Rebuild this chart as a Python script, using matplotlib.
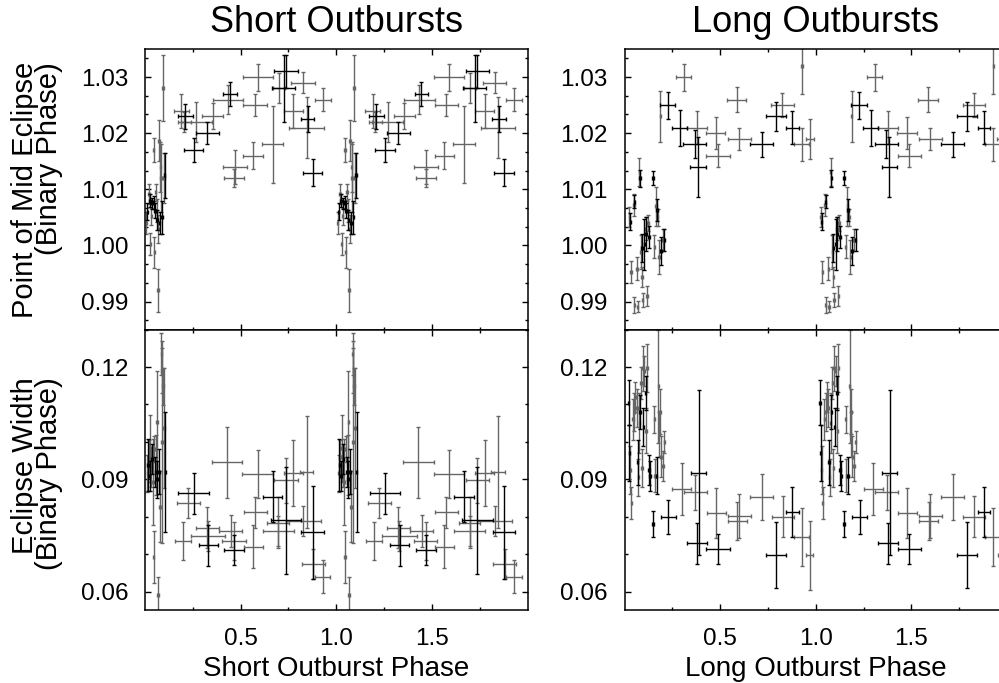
import numpy as np
import matplotlib
matplotlib.use("Agg")
import matplotlib.pyplot as plt
from matplotlib.ticker import FixedLocator, FormatStrFormatter

plt.rcParams["font.family"] = ["Liberation Sans", "DejaVu Sans"]

# ---- short outbursts: point of mid eclipse (phase 0-1, shown twice) ----
sm_phase = [0.007, 0.012, 0.020, 0.025, 0.028, 0.033, 0.037, 0.045, 0.045, 0.049,
            0.051, 0.056, 0.061, 0.064, 0.068, 0.070, 0.073, 0.076, 0.080, 0.083,
            0.090, 0.094, 0.099, 0.102,
            0.190, 0.210, 0.205, 0.255, 0.268, 0.325, 0.355, 0.435, 0.445, 0.470,
            0.467, 0.566, 0.576, 0.590, 0.668, 0.700, 0.738, 0.725, 0.776, 0.828,
            0.845, 0.850, 0.877, 0.930]
sm_dphase = [0.004] * 24 + \
            [0.040, 0.040, 0.035, 0.050, 0.080, 0.060, 0.055, 0.080, 0.035, 0.062,
             0.052, 0.052, 0.062, 0.080, 0.055, 0.030, 0.062, 0.060, 0.050, 0.062,
             0.090, 0.035, 0.050, 0.040]
sm_mid = [1.0040, 1.0060, 1.0092, 1.0080, 1.0003, 1.0052, 1.0075, 1.0170, 1.0077, 0.9988,
          1.0062, 1.0095, 1.0062, 1.0045, 0.9920, 1.0030, 1.0187, 1.0040, 1.0140, 1.0120,
          1.0050, 1.0280, 1.0120, 1.0125,
          1.0240, 1.0230, 1.0220, 1.0170, 1.0220, 1.0200, 1.0230, 1.0260, 1.0270, 1.0140,
          1.0120, 1.0160, 1.0250, 1.0300, 1.0180, 1.0280, 1.0310, 1.0280, 1.0240, 1.0290,
          1.0210, 1.0225, 1.0130, 1.0260]
sm_dmid = [0.0020, 0.0015, 0.0018, 0.0012, 0.0020, 0.0015, 0.0010, 0.0022, 0.0012, 0.0028,
           0.0013, 0.0015, 0.0020, 0.0018, 0.0038, 0.0025, 0.0037, 0.0020, 0.0045, 0.0060,
           0.0030, 0.0059, 0.0045, 0.0040,
           0.0030, 0.0022, 0.0018, 0.0022, 0.0035, 0.0020, 0.0023, 0.0025, 0.0022, 0.0030,
           0.0016, 0.0024, 0.0020, 0.0024, 0.0068, 0.0027, 0.0030, 0.0060, 0.0030, 0.0019,
           0.0055, 0.0023, 0.0024, 0.0020]
sm_grey = [1, 0, 1, 0, 1, 1, 0, 1, 0, 1, 0, 1, 1, 0, 1, 1, 1, 0, 1, 1, 0, 1, 1, 0,
           1, 0, 1, 0, 1, 0, 1, 1, 0, 1, 1, 1, 1, 1, 1, 1, 0, 0, 1, 1, 1, 0, 0, 1]

# ---- short outbursts: eclipse width ----
sw_phase = [0.012, 0.016, 0.020, 0.024, 0.028, 0.033, 0.037, 0.042, 0.045, 0.049,
            0.054, 0.059, 0.062, 0.064, 0.068, 0.072, 0.078, 0.086, 0.088, 0.090,
            0.094, 0.099, 0.106,
            0.198, 0.225, 0.255, 0.325, 0.330, 0.332, 0.429, 0.448, 0.467, 0.467,
            0.566, 0.576, 0.589, 0.668, 0.697, 0.697, 0.738, 0.776, 0.738, 0.828,
            0.845, 0.877, 0.880, 0.929]
sw_dphase = [0.004] * 23 + \
            [0.040, 0.060, 0.080, 0.060, 0.090, 0.050, 0.080, 0.060, 0.062, 0.052,
             0.050, 0.060, 0.080, 0.050, 0.057, 0.080, 0.080, 0.050, 0.062, 0.090,
             0.035, 0.060, 0.060, 0.040]
sw_width = [0.0916, 0.0938, 0.0960, 0.0910, 0.0983, 0.0930, 0.0955, 0.0894, 0.0693, 0.0980,
            0.0920, 0.0938, 0.0900, 0.1054, 0.0590, 0.0920, 0.0827, 0.1235, 0.1000, 0.1190,
            0.1148, 0.1038, 0.0920,
            0.0735, 0.0836, 0.0863, 0.0771, 0.0748, 0.0724, 0.0946, 0.0762, 0.0735, 0.0711,
            0.0720, 0.0812, 0.0914, 0.0854, 0.0784, 0.0762, 0.0790, 0.0917, 0.0897, 0.0789,
            0.0920, 0.0758, 0.0674, 0.0640]
sw_dwidth = [0.0050, 0.0070, 0.0045, 0.0040, 0.0090, 0.0050, 0.0040, 0.0115, 0.0070, 0.0035,
             0.0040, 0.0080, 0.0050, 0.0135, 0.0050, 0.0060, 0.0095, 0.0055, 0.0270, 0.0060,
             0.0050, 0.0160, 0.0160,
             0.0050, 0.0040, 0.0055, 0.0055, 0.0040, 0.0055, 0.0095, 0.0042, 0.0050, 0.0040,
             0.0058, 0.0042, 0.0065, 0.0068, 0.0068, 0.0040, 0.0143, 0.0088, 0.0060, 0.0040,
             0.0150, 0.0125, 0.0040, 0.0045]
sw_grey = [1, 0, 1, 0, 1, 1, 0, 1, 1, 1, 0, 1, 0, 1, 1, 0, 1, 1, 1, 1, 1, 1, 0,
           1, 1, 0, 1, 1, 0, 1, 1, 1, 0, 1, 1, 1, 0, 1, 1, 0, 1, 1, 1, 1, 0, 1, 1]

# ---- long outbursts: point of mid eclipse ----
lm_phase = [0.026, 0.031, 0.035, 0.049, 0.052, 0.052, 0.066, 0.069, 0.078, 0.082,
            0.087, 0.092, 0.092, 0.095, 0.104, 0.110, 0.113, 0.118, 0.122, 0.128,
            0.148, 0.156, 0.165, 0.170, 0.173, 0.181, 0.190, 0.200, 0.208,
            0.188, 0.226, 0.309, 0.288, 0.378, 0.368, 0.385, 0.477, 0.490, 0.587,
            0.599, 0.717, 0.792, 0.826, 0.878, 0.927, 0.929, 0.969]
lm_dphase = [0.004] * 29 + \
            [0.004, 0.040, 0.040, 0.040, 0.052, 0.060, 0.040, 0.050, 0.062, 0.050,
             0.060, 0.060, 0.052, 0.058, 0.032, 0.040, 0.004, 0.020]
lm_mid = [1.0051, 1.0042, 0.9953, 1.0072, 1.0078, 0.9894, 0.9959, 0.9891, 1.0131, 1.0120,
          0.9989, 0.9995, 0.9944, 0.9903, 1.0002, 1.0030, 1.0021, 0.9910, 1.0040, 1.0015,
          1.0120, 0.9998, 1.0070, 1.0063, 1.0050, 0.9980, 0.9990, 1.0010, 1.0010,
          1.0230, 1.0250, 1.0300, 1.0210, 1.0210, 1.0180, 1.0140, 1.0200, 1.0160, 1.0260,
          1.0190, 1.0180, 1.0230, 1.0250, 1.0210, 1.0180, 1.0320, 1.0190]
lm_dmid = [0.0018, 0.0015, 0.0020, 0.0019, 0.0012, 0.0015, 0.0020, 0.0010, 0.0025, 0.0015,
           0.0030, 0.0025, 0.0018, 0.0013, 0.0045, 0.0020, 0.0030, 0.0018, 0.0015, 0.0020,
           0.0013, 0.0020, 0.0035, 0.0020, 0.0015, 0.0030, 0.0025, 0.0020, 0.0020,
           0.0045, 0.0024, 0.0024, 0.0032, 0.0030, 0.0025, 0.0053, 0.0028, 0.0020, 0.0022,
           0.0020, 0.0023, 0.0026, 0.0022, 0.0030, 0.0029, 0.0050, 0.0036]
lm_grey = [1, 0, 1, 1, 0, 1, 1, 1, 1, 0, 1, 0, 1, 1, 0, 1, 0, 1, 1, 0, 0, 1, 1, 0, 1, 1, 0, 1, 0,
           1, 0, 1, 0, 1, 0, 0, 1, 1, 1, 1, 0, 0, 1, 0, 1, 1, 1]

# ---- long outbursts: eclipse width ----
lw_phase = [0.021, 0.026, 0.031, 0.036, 0.045, 0.052, 0.057, 0.066, 0.069, 0.073,
            0.078, 0.082, 0.087, 0.092, 0.095, 0.099, 0.104, 0.110, 0.113, 0.118,
            0.127, 0.134, 0.148, 0.156, 0.160, 0.168, 0.177, 0.182, 0.186, 0.191,
            0.200, 0.208,
            0.229, 0.300, 0.370, 0.387, 0.378, 0.479, 0.490, 0.599, 0.590, 0.717,
            0.790, 0.828, 0.878, 0.927, 0.969]
lw_dphase = [0.004] * 32 + \
            [0.040, 0.050, 0.060, 0.040, 0.052, 0.050, 0.062, 0.060, 0.050, 0.060,
             0.052, 0.058, 0.032, 0.040, 0.018]
lw_width = [0.1105, 0.0970, 0.0925, 0.0837, 0.1060, 0.1080, 0.1120, 0.1090, 0.0945, 0.0905,
            0.1050, 0.1080, 0.1157, 0.0930, 0.1197, 0.1040, 0.1190, 0.1130, 0.1030, 0.1197,
            0.0925, 0.0910, 0.0781, 0.1060, 0.0910, 0.0910, 0.1148, 0.1020, 0.1080, 0.0960,
            0.0935, 0.1000,
            0.0800, 0.0874, 0.0865, 0.0918, 0.0729, 0.0810, 0.0715, 0.0802, 0.0789, 0.0852,
            0.0697, 0.0800, 0.0813, 0.0746, 0.0697]
lw_dwidth = [0.0060, 0.0075, 0.0065, 0.0042, 0.0055, 0.0050, 0.0040, 0.0050, 0.0060, 0.0050,
             0.0080, 0.0045, 0.0042, 0.0050, 0.0060, 0.0050, 0.0040, 0.0045, 0.0060, 0.0065,
             0.0040, 0.0040, 0.0035, 0.0035, 0.0045, 0.0050, 0.0150, 0.0060, 0.0060, 0.0055,
             0.0040, 0.0030,
             0.0045, 0.0070, 0.0047, 0.0220, 0.0055, 0.0066, 0.0040, 0.0060, 0.0050, 0.0061,
             0.0088, 0.0055, 0.0067, 0.0077, 0.0092]
lw_grey = [0, 0, 1, 1, 1, 1, 1, 1, 0, 1, 1, 0, 1, 1, 1, 0, 1, 0, 1, 1, 0, 0, 0, 1, 1, 0, 1, 1,
           1, 1, 1, 1,
           0, 1, 1, 0, 0, 1, 0, 1, 1, 1, 0, 1, 0, 1, 1]

x_ticks = [0.5, 1.0, 1.5]
mid_ticks = [0.99, 1.00, 1.01, 1.02, 1.03]
width_ticks = [0.06, 0.09, 0.12]


def draw(ax, phase, dphase, val, dval, grey):
    phase, dphase = np.array(phase), np.array(dphase)
    val, dval, grey = np.array(val), np.array(dval), np.array(grey)
    for shift in (0.0, 1.0):
        for g, col in ((1, "#666666"), (0, "black")):
            m = grey == g
            ax.errorbar(phase[m] + shift, val[m], xerr=dphase[m], yerr=dval[m],
                        fmt="none", ecolor=col, elinewidth=1.0,
                        capsize=1.3, capthick=1.0)


fig = plt.figure(figsize=(9.99, 6.83), dpi=100)
W, H = 382.5 / 999, 280.7 / 683
lefts = [145 / 999, 624.5 / 999]
bottoms = [1 - 329.7 / 683, 1 - 610.3 / 683]

panels = [
    (0, 0, sm_phase, sm_dphase, sm_mid, sm_dmid, sm_grey),
    (0, 1, sw_phase, sw_dphase, sw_width, sw_dwidth, sw_grey),
    (1, 0, lm_phase, lm_dphase, lm_mid, lm_dmid, lm_grey),
    (1, 1, lw_phase, lw_dphase, lw_width, lw_dwidth, lw_grey),
]

for col, row, ph, dph, v, dv, g in panels:
    ax = fig.add_axes([lefts[col], bottoms[row], W, H])
    draw(ax, ph, dph, v, dv, g)
    ax.set_xlim(0, 2)
    ax.xaxis.set_major_locator(FixedLocator(x_ticks))
    ax.xaxis.set_minor_locator(FixedLocator(np.arange(0.25, 2.0, 0.25)))
    ax.xaxis.set_major_formatter(FormatStrFormatter("%.1f"))
    if row == 0:
        ax.set_ylim(0.985, 1.035)
        ax.yaxis.set_major_locator(FixedLocator(mid_ticks))
        ax.yaxis.set_minor_locator(FixedLocator(np.arange(0.98, 1.04, 0.01 / 3)))
        ax.tick_params(axis="x", labelbottom=False)
        ax.set_title(["Short Outbursts", "Long Outbursts"][col], fontsize=26, pad=12)
    else:
        ax.set_ylim(0.055, 0.130)
        ax.yaxis.set_major_locator(FixedLocator(width_ticks))
        ax.yaxis.set_minor_locator(FixedLocator(np.arange(0.05, 0.14, 0.01)))
        ax.set_xlabel(["Short Outburst Phase", "Long Outburst Phase"][col],
                      fontsize=20, labelpad=4)
    ax.yaxis.set_major_formatter(FormatStrFormatter("%.2f"))
    ax.tick_params(which="both", direction="in", top=True, right=True,
                   labelsize=17.5, width=1.0)
    ax.tick_params(axis="y", pad=12)
    ax.tick_params(axis="x", pad=13)
    ax.tick_params(which="major", length=4)
    ax.tick_params(which="minor", length=2.5)
    for s in ax.spines.values():
        s.set_linewidth(1.1)

# two-line y titles (second line aligned to the top end of the first)
fig.text(37 / 999, 1 - 190 / 683, "Point of Mid Eclipse\n(Binary Phase)", rotation=90,
         ha="center", va="center", multialignment="right", linespacing=0.8,
         fontsize=21)
fig.text(37 / 999, 1 - 474 / 683, "Eclipse Width\n(Binary Phase)", rotation=90,
         ha="center", va="center", multialignment="right", linespacing=0.8,
         fontsize=21)

fig.savefig("out.png", dpi=100)
